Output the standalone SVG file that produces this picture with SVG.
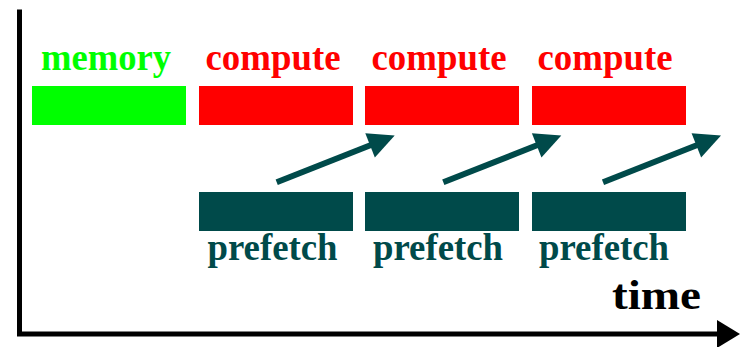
<svg xmlns="http://www.w3.org/2000/svg" width="740" height="347" viewBox="0 0 740 347">
  <style>
    .lbl { font-family: "Liberation Serif", "Times New Roman", serif; font-weight: bold; font-size: 38px; text-anchor: middle; }
    .mem { fill: #00ff00; }
    .cmp { fill: #ff0000; }
    .pre { fill: #004a4a; }
    .axis { stroke: #000; stroke-width: 5; fill: none; }
    .conn { stroke: #004a4a; stroke-width: 6; fill: none; marker-end: url(#head); }
  </style>
  <defs>
    <marker id="head" markerUnits="userSpaceOnUse" viewBox="-2 -14 30 28" refX="1" refY="0" markerWidth="30" markerHeight="28" orient="auto" overflow="visible">
      <path d="M0,-13 L26.5,0 L0,13 Z" fill="#004a4a"/>
    </marker>
  </defs>
  <rect width="740" height="347" fill="#fff"/>

  <g id="axes">
    <path class="axis" d="M19.5,9.5 V334 H719"/>
    <polygon points="717,320 740,334 717,348" fill="#000"/>
    <text x="612" y="309" class="lbl" style="text-anchor:start;font-size:43px" fill="#000" textLength="89" lengthAdjust="spacingAndGlyphs">time</text>
  </g>

  <g id="memory">
    <rect x="32" y="86" width="154" height="39" class="mem"/>
    <text x="106" y="70" class="lbl mem" textLength="130" lengthAdjust="spacingAndGlyphs">memory</text>
  </g>
  <g id="compute1">
    <rect x="199" y="86" width="154" height="39" class="cmp"/>
    <text x="273" y="70" class="lbl cmp" textLength="135" lengthAdjust="spacingAndGlyphs">compute</text>
  </g>
  <g id="compute2">
    <rect x="365" y="86" width="154" height="39" class="cmp"/>
    <text x="439" y="70" class="lbl cmp" textLength="135" lengthAdjust="spacingAndGlyphs">compute</text>
  </g>
  <g id="compute3">
    <rect x="532" y="86" width="154" height="39" class="cmp"/>
    <text x="605" y="70" class="lbl cmp" textLength="135" lengthAdjust="spacingAndGlyphs">compute</text>
  </g>
  <g id="prefetch1">
    <rect x="199" y="192" width="154" height="39" class="pre"/>
    <text x="272.5" y="260" class="lbl pre" textLength="130" lengthAdjust="spacingAndGlyphs">prefetch</text>
  </g>
  <g id="prefetch2">
    <rect x="365" y="192" width="154" height="39" class="pre"/>
    <text x="438" y="260" class="lbl pre" textLength="130" lengthAdjust="spacingAndGlyphs">prefetch</text>
  </g>
  <g id="prefetch3">
    <rect x="532" y="192" width="154" height="39" class="pre"/>
    <text x="604" y="260" class="lbl pre" textLength="130" lengthAdjust="spacingAndGlyphs">prefetch</text>
  </g>

  <g id="connectors">
    <path class="conn" d="M276.7,182.3 L371,145"/>
    <path class="conn" d="M443.3,182.3 L537.6,145"/>
    <path class="conn" d="M603,182.3 L697.3,145"/>
  </g>
</svg>
